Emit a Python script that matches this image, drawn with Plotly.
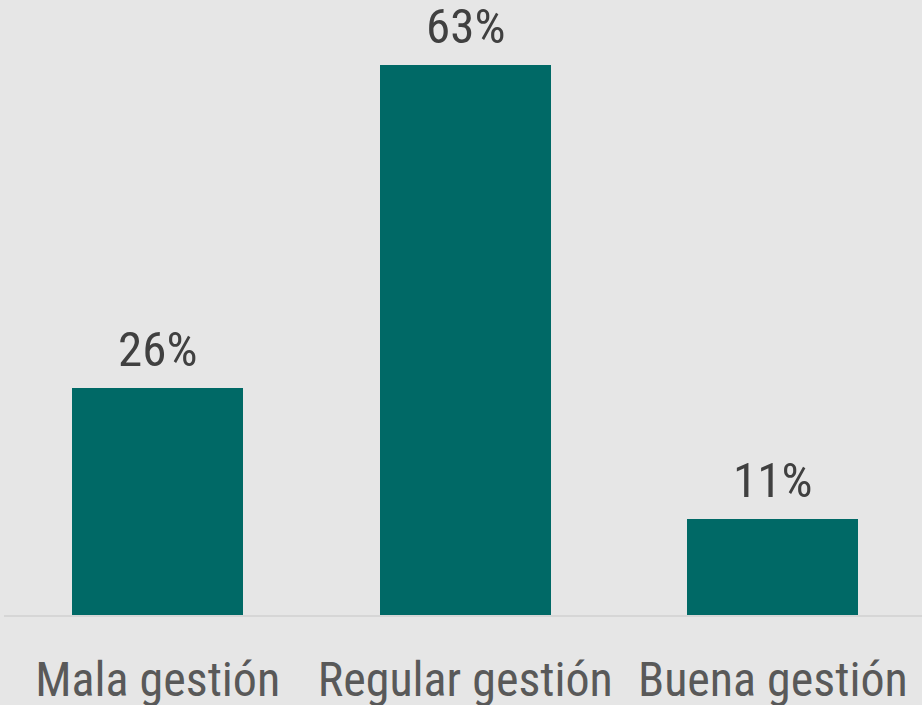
import plotly.graph_objects as go

categories = ['Mala gestión', 'Regular gestión', 'Buena gestión']
values = [26, 63, 11]
labels = ['26%', '63%', '11%']

BG = '#E6E6E6'
BAR = '#006966'
FONT = "Roboto Condensed, Liberation Sans Narrow, Roboto, sans-serif"

fig = go.Figure()

fig.add_trace(go.Bar(
    x=categories,
    y=values,
    width=0.556,
    marker=dict(color=BAR, line=dict(width=0)),
    hoverinfo='skip',
))

# value labels above bars
for cat, val, lab in zip(categories, values, labels):
    fig.add_annotation(
        x=cat, y=val, text=lab,
        showarrow=False, yanchor='bottom', yshift=8,
        font=dict(family=FONT, size=49, color='#404040'),
    )

fig.update_layout(
    width=922, height=705,
    margin=dict(l=4, r=0, t=0, b=90),
    paper_bgcolor=BG,
    plot_bgcolor=BG,
    showlegend=False,
    bargap=0,
    xaxis=dict(
        range=[-0.5, 2.485],
        automargin=False,
        showgrid=False, zeroline=False,
        showline=True, linecolor='#D6D6D6', linewidth=2,
        ticks='', ticklabelstandoff=21,
        tickfont=dict(family=FONT, size=48, color='#595959'),
    ),
    yaxis=dict(
        range=[0, 70.4],
        automargin=False,
        visible=False,
    ),
)

fig.write_html("out.html", config={'displayModeBar': False},
               post_script="document.body.style.margin='0';")
